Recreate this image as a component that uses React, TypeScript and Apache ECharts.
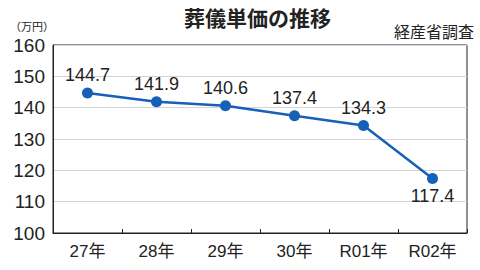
import React, { useEffect, useRef } from "react";
import * as echarts from "echarts";

const categories = ["27年", "28年", "29年", "30年", "R01年", "R02年"];
const values = [144.7, 141.9, 140.6, 137.4, 134.3, 117.4];
const yMin = 100;
const yMax = 160;
const yInterval = 10;

const FONT = "'Liberation Sans', Arial, 'Noto Sans CJK JP', sans-serif";
const BLUE = "#1660b8";

export default function App() {
  const ref = useRef<HTMLDivElement>(null);
  useEffect(() => {
    if (!ref.current) return;
    const chart = echarts.init(ref.current, null, { renderer: "svg" });
    chart.setOption({
      animation: false,
      backgroundColor: "#ffffff",
      textStyle: { fontFamily: FONT },
      grid: {
        left: 53,
        right: 13,
        top: 45,
        bottom: 37,
        show: true,
        borderColor: "#222",
        borderWidth: 1,
      },
      graphic: [
        {
          type: "text",
          left: 184,
          top: 6,
          style: {
            text: "葬儀単価の推移",
            font: "bold 21px 'Noto Sans CJK JP', sans-serif",
            fill: "#222",
          },
        },
        {
          type: "text",
          right: 6,
          top: 23,
          style: {
            text: "経産省調査",
            font: "16px 'Noto Sans CJK JP', sans-serif",
            fill: "#222",
          },
        },
        {
          type: "text",
          left: 10,
          top: 20,
          style: {
            text: "（万円）",
            font: "11px 'Noto Sans CJK JP', sans-serif",
            fill: "#222",
          },
        },
      ],
      xAxis: {
        type: "category",
        data: categories,
        boundaryGap: true,
        axisLine: { show: true, lineStyle: { color: "#222", width: 1 } },
        axisTick: { show: true, inside: true, length: 4, lineStyle: { color: "#222" } },
        axisLabel: {
          color: "#222",
          fontSize: 17,
          margin: 10,
          fontFamily: "'Liberation Sans', 'Noto Sans CJK JP', sans-serif",
        },
      },
      yAxis: {
        type: "value",
        min: yMin,
        max: yMax,
        interval: yInterval,
        axisLine: { show: true, lineStyle: { color: "#222", width: 1 } },
        axisTick: { show: false },
        axisLabel: {
          color: "#222",
          fontSize: 19,
          margin: 8,
          fontFamily: "'Liberation Sans', Arial, sans-serif",
        },
        splitLine: { show: true, lineStyle: { color: "#d4d4d4", width: 1 } },
      },
      series: [
        {
          type: "line",
          data: values.map((v, i) => ({
            value: v,
            label: {
              position: i === values.length - 1 ? "bottom" : "top",
            },
          })),
          symbol: "circle",
          symbolSize: 11,
          lineStyle: { color: BLUE, width: 2.5 },
          itemStyle: { color: BLUE },
          label: {
            show: true,
            color: "#222",
            fontSize: 18,
            distance: 3,
            fontFamily: "'Liberation Sans', Arial, sans-serif",
            formatter: (p: any) => Number(p.value).toFixed(1),
          },
        },
      ],
    });
    return () => chart.dispose();
  }, []);
  return <div ref={ref} style={{ width: 480, height: 270, position: "absolute", left: 0, top: 0 }} />;
}
